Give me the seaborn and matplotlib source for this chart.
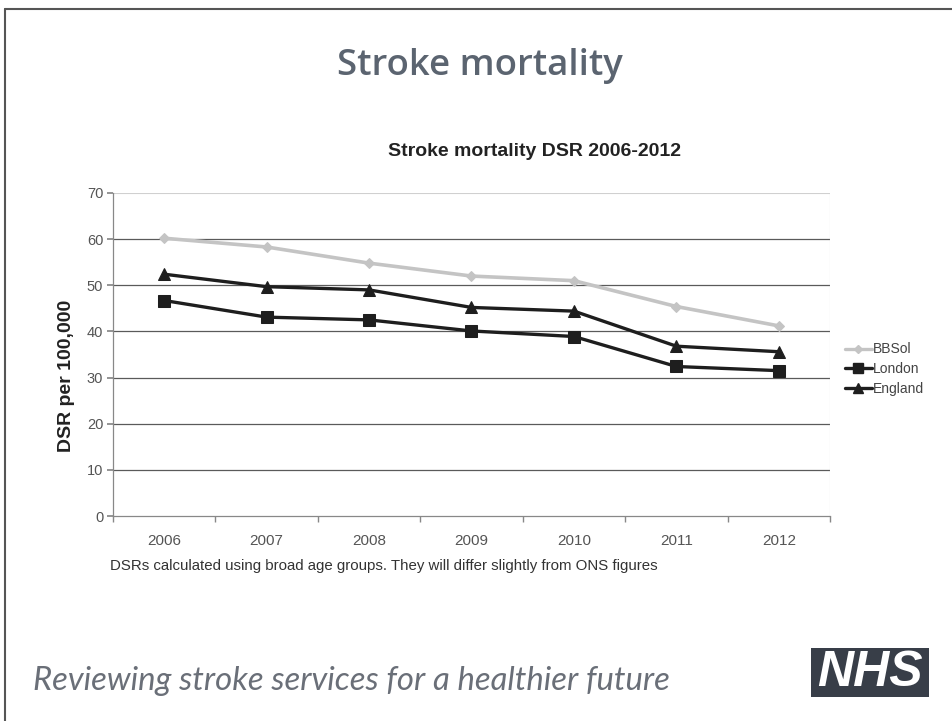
import matplotlib
matplotlib.use("Agg")
import matplotlib.pyplot as plt
import seaborn as sns
import pandas as pd
from matplotlib.lines import Line2D
from matplotlib.patches import Rectangle

years = ["2006", "2007", "2008", "2009", "2010", "2011", "2012"]
bbsol = [60.2, 58.3, 54.8, 52.0, 51.0, 45.4, 41.2]
london = [46.7, 43.1, 42.5, 40.1, 38.9, 32.4, 31.5]
england = [52.4, 49.7, 49.0, 45.2, 44.4, 36.8, 35.6]
series_names = ["BBSol", "London", "England"]
y_ticks = [0, 10, 20, 30, 40, 50, 60, 70]

rows = []
for name, vals in zip(series_names, [bbsol, london, england]):
    for i, (yr, v) in enumerate(zip(years, vals)):
        rows.append({"idx": i, "year": yr, "series": name, "value": v})
df = pd.DataFrame(rows)

sns.set_theme(style="white")
plt.rcParams["font.family"] = ["Liberation Sans", "DejaVu Sans"]

fig = plt.figure(figsize=(9.52, 7.21), dpi=100)
fig.patch.set_facecolor("white")
ax = fig.add_axes([113/952, 1-516/721, (830-113)/952, (516-193)/721])

palette = {"BBSol": "#c4c4c4", "London": "#1e1e1e", "England": "#1e1e1e"}
markers = {"BBSol": "D", "London": "s", "England": "^"}
sizes_m = {"BBSol": 5, "London": 9, "England": 8.5}

for name in series_names:
    sub = df[df["series"] == name]
    sns.lineplot(data=sub, x="idx", y="value", ax=ax, color=palette[name],
                 marker=markers[name], markersize=sizes_m[name],
                 markeredgecolor=palette[name], linewidth=2.4 if name != "BBSol" else 2.6,
                 legend=False, zorder=3 if name != "BBSol" else 2)

ax.set_xlim(-0.5, 6.5)
ax.set_ylim(0, 70)
ax.set_yticks(y_ticks)
ax.set_yticklabels([str(t) for t in y_ticks], fontsize=10.5, color="#555555")
ax.set_xticks(range(len(years)))
ax.set_xticklabels(years, fontsize=11, color="#555555")
ax.tick_params(axis="x", length=0, pad=13)
ax.tick_params(axis="y", length=4, direction="out", left=True, color="#888888", pad=3)
ax.set_xticks([i - 0.5 for i in range(len(years) + 1)], minor=True)
ax.tick_params(axis="x", which="minor", length=4, direction="out", bottom=True, color="#888888")
ax.set_xlabel("")
ax.set_ylabel("DSR per 100,000", fontsize=14, fontweight="bold", color="#222222")
ax.yaxis.set_label_coords((75 - 113) / (830 - 113), (516 - 376) / (516 - 193))

for t in y_ticks[1:-1]:
    ax.axhline(t, color="#5a5a5a", linewidth=0.9, zorder=1)
ax.axhline(70, color="#d0d0d0", linewidth=0.8, zorder=1)
for s in ["top", "right"]:
    ax.spines[s].set_visible(False)
ax.axvline(6.5, color="#d0d0d0", linewidth=0.8, zorder=1)
ax.spines["left"].set_color("#888888")
ax.spines["bottom"].set_color("#888888")
ax.spines["left"].set_linewidth(0.9)
ax.spines["bottom"].set_linewidth(0.9)

handles = [Line2D([], [], color=palette[n], marker=markers[n],
                  markersize=sizes_m[n] * 0.8, markeredgecolor=palette[n],
                  linewidth=2.4) for n in series_names]
fig.legend(handles, series_names, loc="center left",
           bbox_to_anchor=(832/952, 1-369/721), frameon=False,
           fontsize=10, handlelength=2.0, handletextpad=0.05,
           labelspacing=0.4, labelcolor="#444444")

fig.text(480/952, 1-66/721, "Stroke mortality", fontsize=26.3, color="#5b6470",
         ha="center", va="center", fontweight="semibold",
         family=["Open Sans", "DejaVu Sans"])
fig.text(535/952, 1-152/721, "Stroke mortality DSR 2006-2012", fontsize=14,
         fontweight="bold", color="#222222", ha="center", va="center")
fig.text(110/952, 1-566/721,
         "DSRs calculated using broad age groups. They will differ slightly from ONS figures",
         fontsize=10.8, color="#333333", ha="left", va="center")
fig.text(33/952, 1-681/721, "Reviewing stroke services for a healthier future",
         fontsize=23.7, color="#6a6f78", style="italic", ha="left", va="center",
         family=["Lato", "DejaVu Sans"])

fig.add_artist(Line2D([5/952, 1], [1-9/721, 1-9/721], color="#555555", linewidth=1.5,
                      transform=fig.transFigure))
fig.add_artist(Line2D([5/952, 5/952], [0, 1-9/721], color="#555555", linewidth=1.5,
                      transform=fig.transFigure))

fig.add_artist(Rectangle((811/952, 1-697/721), (929-811)/952, (697-648)/721,
                         facecolor="#383e48", edgecolor="none", transform=fig.transFigure))
fig.text(870/952, 1-673/721, "NHS", fontsize=36, fontweight="bold", style="italic",
         color="white", ha="center", va="center")

fig.savefig("out.png", dpi=100, facecolor="white")
